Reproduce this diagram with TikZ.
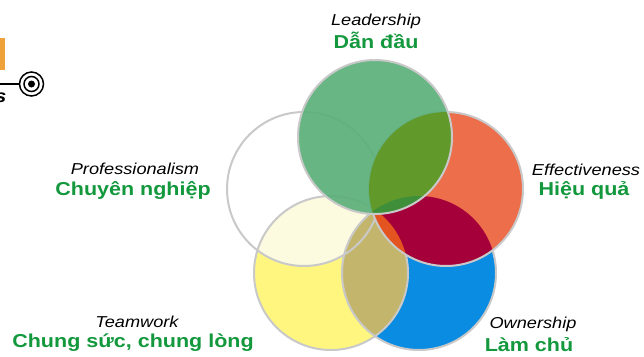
\documentclass[tikz,border=0pt]{standalone}
\usepackage{fontspec}
\setmainfont{Liberation Sans}
\newfontfamily\lblfont[FakeStretch=1.15]{Liberation Sans}
\usetikzlibrary{positioning}
\definecolor{ringgray}{HTML}{C9C9C9}
\definecolor{leadgreen}{HTML}{5DB07B}
\definecolor{leadeff}{HTML}{619A2B}
\definecolor{leadown}{HTML}{3F8F3A}
\definecolor{effred}{HTML}{EC6E4B}
\definecolor{effown}{HTML}{A5003A}
\definecolor{effteam}{HTML}{E35420}
\definecolor{ownblue}{HTML}{0A8CE2}
\definecolor{teamyellow}{HTML}{FFF67F}
\definecolor{teamown}{HTML}{C4B56C}
\definecolor{teamprof}{HTML}{FCFADF}
\definecolor{vngreen}{HTML}{13983D}
\definecolor{tabgold}{HTML}{F0A23A}

\begin{document}
\begin{tikzpicture}[x=1pt,y=-1pt]

        % Setup the styles
        \tikzset{ring/.style={draw=ringgray, line width=2pt},
                 en label/.style={font=\lblfont\itshape\fontsize{15.8}{18}\selectfont,
                                  text=black, inner sep=0pt, anchor=base},
                 vn label/.style={font=\lblfont\bfseries\fontsize{18.7}{22}\selectfont,
                                  text=vngreen, inner sep=0pt, anchor=base}}
        \useasboundingbox (0,0) rectangle (644,356);

        % Centres of the five circles
        \coordinate (lead) at (375,137);
        \coordinate (prof) at (304,189);
        \coordinate (eff)  at (446,189);
        \coordinate (team) at (331,273);
        \coordinate (own)  at (419,273);

        % Professionalism and Teamwork
        \fill[white] (prof) circle (77);
        \fill[teamyellow] (team) circle (77);
        \begin{scope}
            \clip (prof) circle (77);
            \fill[teamprof] (team) circle (77);
        \end{scope}
        % Ownership
        \fill[ownblue] (own) circle (77);
        \begin{scope}
            \clip (team) circle (77);
            \fill[teamown] (own) circle (77);
        \end{scope}
        \draw[ring] (prof) circle (77) (team) circle (77) (own) circle (77);

        % Effectiveness
        \fill[effred] (eff) circle (77);
        \begin{scope}
            \clip (eff) circle (77);
            \fill[effown] (own) circle (77);
            \fill[effteam] (team) circle (77);
        \end{scope}
        \draw[ring] (eff) circle (77);

        % Leadership
        \fill[leadgreen, fill opacity=0.93] (lead) circle (77);
        \begin{scope}
            \clip (lead) circle (77);
            \fill[leadeff] (eff) circle (77);
            \clip (eff) circle (77);
            \fill[leadown] (own) circle (77);
        \end{scope}
        \draw[ring] (lead) circle (77);

        % Labels
        \node[en label] at (376,25)  (leaden) {Leadership};
        \node[vn label] at (376,48)  (leadvn) {Dẫn đầu};
        \node[en label] at (135,174) (profen) {Professionalism};
        \node[vn label] at (133,195) (profvn) {Chuyên nghiệp};
        \node[en label] at (586,175) (effen)  {Effectiveness};
        \node[vn label] at (584,195) (effvn)  {Hiệu quả};
        \node[en label] at (137,327) (teamen) {Teamwork};
        \node[vn label] at (133,347) (teamvn) {Chung sức, chung lòng};
        \node[en label] at (533,328) (ownen)  {Ownership};
        \node[vn label] at (529,351) (ownvn)  {Làm chủ};

        % Cut-off piece at the top left
        \fill[tabgold] (0,38) rectangle (5,70);
        \coordinate (tabend) at (0,84);
        \node[draw, circle, line width=1.5pt, minimum size=24pt, inner sep=0pt] at (31.5,84) (target) {};
        \node[draw, circle, line width=1.5pt, minimum size=15pt, inner sep=0pt] at (target) (targetin) {};
        \fill (target) circle (3.5);
        \draw[line width=1.5pt] (tabend) -- (target);
        \node[font=\lblfont\bfseries\itshape\fontsize{18}{20}\selectfont, inner sep=0pt, anchor=base east] at (6.5,102) (tabs) {s};
    \end{tikzpicture}
\end{document}
